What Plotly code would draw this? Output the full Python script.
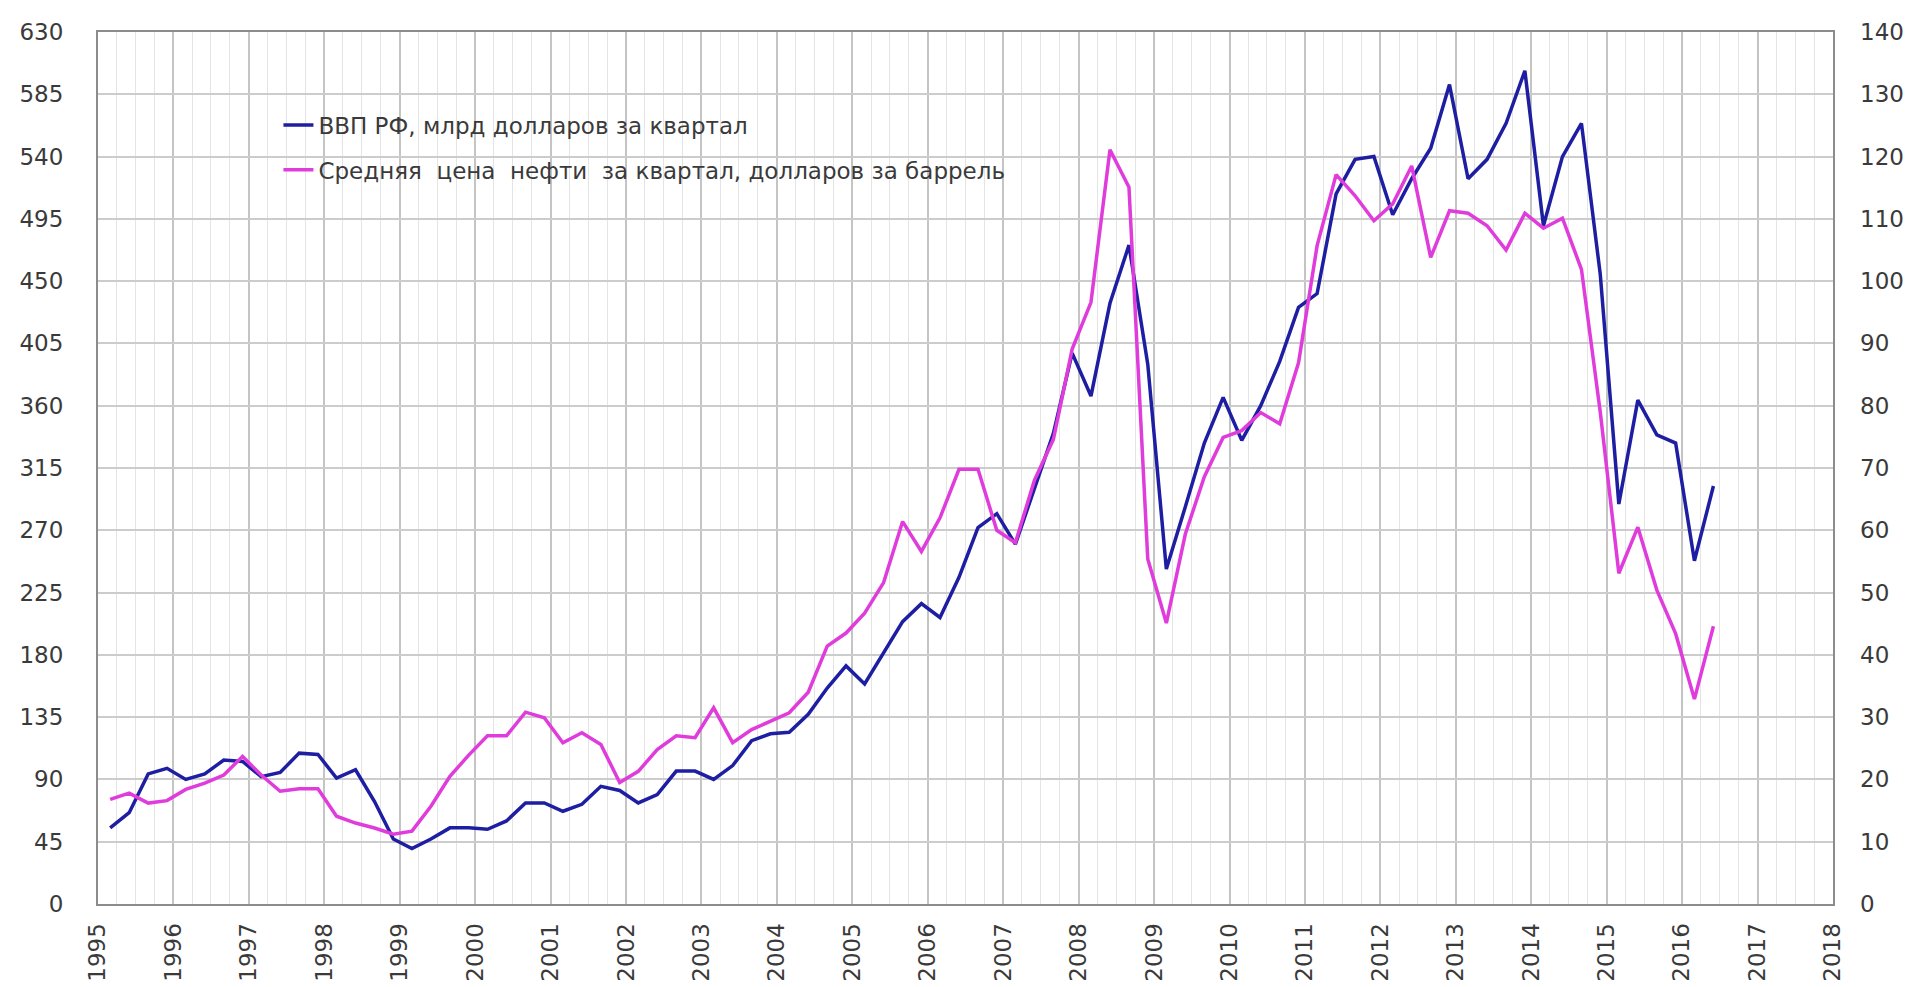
import pandas as pd
import plotly.graph_objects as go

# Quarterly data, 1995 Q1 .. 2016 Q2 (plotted at the first day of each quarter's last month)
start_date = "1995-03-01"
n_quarters = 86

gdp = [55, 66, 94, 98, 90, 94, 104, 103, 92, 95, 109, 108, 91, 97, 74, 47,
       40, 47, 55, 55, 54, 60, 73, 73, 67, 72, 85, 82, 73, 79, 96, 96,
       90, 100, 118, 123, 124, 137, 156, 172, 159, 181, 204, 217, 207, 236, 272, 282,
       260, 300, 340, 398, 367, 434, 476, 390, 242, 287, 333, 366, 335, 360, 392, 431,
       441, 513, 538, 540, 498, 524, 546, 592, 524, 538, 564, 602, 490, 540, 564, 455,
       289, 364, 339, 333, 248, 302]

oil = [16.8, 17.8, 16.2, 16.6, 18.4, 19.4, 20.7, 23.7, 20.7, 18.1, 18.5, 18.5, 14.1, 13.0, 12.2, 11.2,
       11.7, 15.7, 20.5, 23.9, 27.0, 27.0, 30.8, 29.9, 25.9, 27.5, 25.6, 19.5, 21.3, 24.8, 27.0, 26.7,
       31.5, 25.9, 28.0, 29.4, 30.7, 34.0, 41.4, 43.5, 46.7, 51.6, 61.4, 56.6, 62.0, 69.8, 69.8, 60.0,
       58.0, 68.0, 74.6, 89.1, 96.6, 121.1, 115.1, 55.4, 45.1, 59.4, 68.6, 74.9, 76.0, 78.9, 77.1, 86.9,
       105.7, 117.1, 113.7, 109.7, 112.4, 118.5, 103.8, 111.3, 110.9, 108.9, 105.0, 110.9, 108.5, 110.1, 101.9, 79.0,
       53.1, 60.5, 50.4, 43.4, 32.9, 44.6]

gdp_name = "ВВП РФ, млрд долларов за квартал"
oil_name = "Средняя  цена  нефти  за квартал, долларов за баррель"

left_ticks = list(range(0, 631, 45))
right_ticks = list(range(0, 141, 10))
year_ticks = [f"{y}-01-01" for y in range(1995, 2019)]
year_labels = [str(y) for y in range(1995, 2019)]

dates = pd.date_range(start=start_date, periods=n_quarters, freq="3MS")

fig = go.Figure()
fig.add_trace(go.Scatter(x=dates, y=gdp, name=gdp_name, mode="lines",
                         line=dict(color="#1e1ea2", width=3.5), legendgroup="a", yaxis="y"))
fig.add_trace(go.Scatter(x=dates, y=oil, name=oil_name, mode="lines",
                         line=dict(color="#e03cdc", width=3.5), legendgroup="b", yaxis="y2"))

font = dict(family="DejaVu Sans", size=23, color="#3a3a3a")

fig.update_layout(
    width=1920, height=987,
    margin=dict(l=90, r=95, t=24, b=91, pad=0),
    paper_bgcolor="white", plot_bgcolor="white",
    font=font,
    showlegend=True,
    legend=dict(x=0.104, y=0.918, xanchor="left", yanchor="top",
                bgcolor="rgba(0,0,0,0)", font=dict(family="DejaVu Sans", size=23, color="#3a3a3a"),
                tracegroupgap=12, itemwidth=30),
    xaxis=dict(type="date", range=["1995-01-01", "2018-01-01"],
               tickmode="array", tickvals=year_ticks, ticktext=year_labels,
               tickangle=-90, ticks="", ticklabelstandoff=8,
               showgrid=True, gridcolor="#c4c4c4", gridwidth=1.5,
               minor=dict(dtick="M3", showgrid=True, gridcolor="#e4e4e4", gridwidth=1),
               showline=True, linecolor="#8c8c8c", linewidth=2, mirror=True,
               zeroline=False),
    yaxis=dict(range=[0, 630], tickmode="array", tickvals=left_ticks,
               showgrid=True, gridcolor="#cccccc", gridwidth=1.5,
               showline=True, linecolor="#8c8c8c", linewidth=2, mirror=True,
               ticks="", ticklabelstandoff=28, zeroline=False),
    yaxis2=dict(range=[0, 140], tickmode="array", tickvals=right_ticks,
                overlaying="y", side="right", showgrid=False,
                ticks="", ticklabelstandoff=26, zeroline=False, showline=False),
)

fig.write_html("out.html")
